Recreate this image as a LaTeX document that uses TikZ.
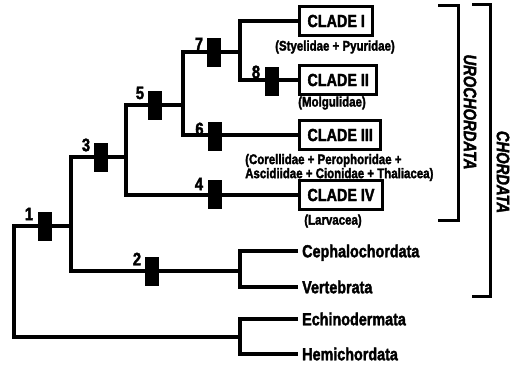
\documentclass[tikz,border=0pt]{standalone}
\usepackage{fontspec}
\setmainfont{Liberation Sans}[FakeStretch=0.82,
  BoldFeatures={FakeBold=2},BoldItalicFeatures={FakeBold=2}]
\begin{document}
\begin{tikzpicture}[x=1pt,y=-1pt,
  branch/.style={line width=3.4pt,line join=miter},
  bracket/.style={line width=3pt,line join=miter},
  synapo/.style={fill=black,draw=none,minimum width=14pt,minimum height=29pt,inner sep=0pt},
  numlab/.style={font=\bfseries\fontsize{18}{19}\selectfont,inner sep=0pt,anchor=east},
  clade/.style={draw,line width=3pt,inner xsep=8pt,minimum height=29pt,
    font=\bfseries\fontsize{17.5}{19}\selectfont,anchor=west},
  taxon/.style={font=\bfseries\fontsize{17.5}{19}\selectfont,anchor=west,inner xsep=4pt,inner ysep=0pt,
    text height=12.5pt,text depth=0pt},
  sub/.style={font=\bfseries\fontsize{14}{13}\selectfont,inner sep=0pt},
  group/.style={font=\bfseries\itshape\fontsize{18}{19}\selectfont,rotate=-90,inner sep=0pt}]
\useasboundingbox (0,0) rectangle (523,365);

% terminal clades (boxed) and taxa
\node[clade] (c1) at (298,21) {CLADE I};
\node[clade] (c2) at (298,80) {CLADE II};
\node[clade] (c3) at (298,135) {CLADE III};
\node[clade] (c4) at (298,195) {CLADE IV};
\node[taxon] (ceph) at (298,251) {Cephalochordata};
\node[taxon] (vert) at (298,287) {Vertebrata};
\node[taxon] (echi) at (298,319) {Echinodermata};
\node[taxon] (hemi) at (298,354) {Hemichordata};

% family contents of each clade
\node[sub] (s1) at (335,47) {(Styelidae + Pyuridae)};
\node[sub] (s2) at (332,103) {(Molgulidae)};
\node[sub,align=left,anchor=west] (s3) at (245,167.5) {(Corellidae + Perophoridae +\\Ascidiidae + Cionidae + Thaliacea)};
\node[sub] (s4) at (333,221) {(Larvacea)};

% internal nodes of the tree
\coordinate (n7) at (240,52);
\coordinate (n6) at (183,105);
\coordinate (n5) at (126,157);
\coordinate (n3) at (71,226);
\coordinate (cv) at (240,271);
\coordinate (eh) at (240,337);
\coordinate (root) at (14,280);

% branches
\draw[branch] (c1.west) -| (n7) |- (c2.west);
\draw[branch] (n6) |- (n7);
\draw[branch] (n6) |- (c3.west);
\draw[branch] (n5) |- (n6);
\draw[branch] (n5) |- (c4.west);
\draw[branch] (n3) |- (n5);
\draw[branch] (n3) |- (cv);
\draw[branch] (ceph.west) -| (cv) |- (vert.west);
\draw[branch] (echi.west) -| (eh) |- (hemi.west);
\draw[branch] (n3) -| (root) |- (eh);

% synapomorphy bars with their numbers
\node[synapo] (m1) at (44.5,226) {};
\node[synapo] (m2) at (151.5,271) {};
\node[synapo] (m3) at (100.5,157) {};
\node[synapo] (m4) at (214.5,194) {};
\node[synapo] (m5) at (154.5,105) {};
\node[synapo] (m6) at (215,136) {};
\node[synapo] (m7) at (213.5,52) {};
\node[synapo] (m8) at (271.5,81) {};
\node[numlab] (l1) at ([shift={(-4,-12)}]m1.west) {1};
\node[numlab] (l2) at ([shift={(-3,-12)}]m2.west) {2};
\node[numlab] (l3) at ([shift={(-3,-12)}]m3.west) {3};
\node[numlab] (l4) at ([shift={(-4,-10)}]m4.west) {4};
\node[numlab] (l5) at ([shift={(-3,-12)}]m5.west) {5};
\node[numlab] (l6) at ([shift={(-4,-7)}]m6.west) {6};
\node[numlab] (l7) at ([shift={(-3,-8)}]m7.west) {7};
\node[numlab] (l8) at ([shift={(-4,-9)}]m8.west) {8};

% group brackets
\coordinate (ut) at (438,5);
\coordinate (ub) at (438,220);
\coordinate (ct) at (472,4);
\coordinate (cb) at (472,296);
\draw[bracket] (ut) -- ++(20,0) |- (ub);
\draw[bracket] (ct) -- ++(18,0) |- (cb);
\node[group] (uro) at (470,112) {UROCHORDATA};
\node[group] (cho) at (503,172) {CHORDATA};
\end{tikzpicture}
\end{document}
